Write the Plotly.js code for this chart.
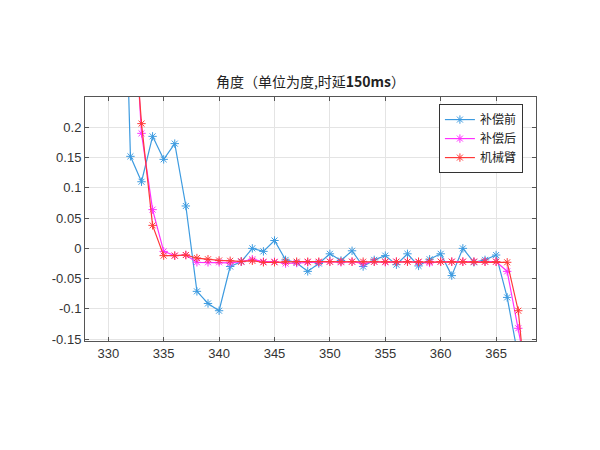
<!DOCTYPE html>
<html>
<head>
<meta charset="utf-8">
<script src="https://cdn.plot.ly/plotly-3.0.1.min.js"></script>
<style>
  html, body { margin: 0; padding: 0; background: #fff; }
  #plot { width: 600px; height: 450px; }
</style>
</head>
<body>
<div id="plot"></div>
<script>
// sample index (x axis)
var xBefore = [331, 332, 333, 334, 335, 336, 337, 338, 339, 340, 341, 342, 343, 344, 345, 346, 347, 348, 349,
  350, 351, 352, 353, 354, 355, 356, 357, 358, 359, 360, 361, 362, 363, 364, 365, 366, 367];
var xAfter = [332, 333, 334, 335, 336, 337, 338, 339, 340, 341, 342, 343, 344, 345, 346, 347, 348, 349,
  350, 351, 352, 353, 354, 355, 356, 357, 358, 359, 360, 361, 362, 363, 364, 365, 366, 367, 368];

// angle before compensation
var yBefore = [0.8, 0.152, 0.110, 0.185, 0.147, 0.173, 0.070, -0.071, -0.091, -0.103, -0.030, -0.022, 0.000, -0.005,
  0.013, -0.019, -0.024, -0.038, -0.025, -0.009, -0.020, -0.004, -0.030, -0.019, -0.012, -0.027, -0.009, -0.029,
  -0.018, -0.009, -0.045, 0.000, -0.023, -0.019, -0.011, -0.081, -0.18];

// angle after compensation
var yAfter = [0.5, 0.19, 0.064, -0.005, -0.012, -0.011, -0.023, -0.023, -0.023, -0.024, -0.022, -0.018, -0.022,
  -0.022, -0.025, -0.024, -0.023, -0.023, -0.022, -0.023, -0.022, -0.025, -0.022, -0.023, -0.022, -0.022, -0.023,
  -0.024, -0.022, -0.022, -0.022, -0.022, -0.022, -0.022, -0.038, -0.132, -0.23];

// robot arm angle
var yArm = [0.45, 0.206, 0.038, -0.012, -0.012, -0.011, -0.016, -0.018, -0.020, -0.0205, -0.0216, -0.0205, -0.023,
  -0.023, -0.022, -0.022, -0.022, -0.022, -0.022, -0.022, -0.022, -0.022, -0.022, -0.022, -0.022, -0.022, -0.022,
  -0.022, -0.022, -0.022, -0.022, -0.022, -0.022, -0.022, -0.023, -0.103, -0.29];

var xTicks = [330, 335, 340, 345, 350, 355, 360, 365];
var yTicks = [-0.15, -0.1, -0.05, 0, 0.05, 0.1, 0.15, 0.2];
var yTickText = ['-0.15', '-0.1', '-0.05', '0', '0.05', '0.1', '0.15', '0.2'];

function trace(x, y, name, color) {
  return {
    x: x, y: y, name: name, type: 'scatter', mode: 'lines+markers',
    line: {color: color, width: 1.2},
    marker: {symbol: 'asterisk-open', size: 7, color: color, line: {color: color, width: 1}}
  };
}

var data = [
  trace(xBefore, yBefore, '补偿前', '#3d9be0'),
  trace(xAfter, yAfter, '补偿后', '#ff30ff'),
  trace(xAfter, yArm, '机械臂', '#ff3838')
];

var axisStyle = {
  showline: true, linecolor: '#555', linewidth: 1, mirror: 'ticks',
  ticks: 'inside', ticklen: 4, tickcolor: '#555',
  showgrid: true, gridcolor: '#e4e4e4', zeroline: false,
  tickfont: {family: 'Liberation Sans, Arial, sans-serif', size: 13, color: '#333'}
};

var layout = {
  width: 600, height: 450,
  paper_bgcolor: '#fff', plot_bgcolor: '#fff',
  margin: {l: 85, r: 64, t: 97, b: 109},
  title: {
    text: '角度（单位为度,时延<b>150ms</b>）',
    font: {family: 'Noto Sans CJK SC, sans-serif', size: 14, color: '#222'},
    x: 0.5, xref: 'paper', y: 0.818, yref: 'container', yanchor: 'middle'
  },
  xaxis: Object.assign({}, axisStyle, {range: [327.9, 368.6], tickvals: xTicks}),
  yaxis: Object.assign({}, axisStyle, {range: [-0.153, 0.25], tickvals: yTicks, ticktext: yTickText}),
  showlegend: true,
  legend: {
    x: 0.971, y: 0.971, xanchor: 'right', yanchor: 'top',
    bgcolor: '#fff', bordercolor: '#333', borderwidth: 1,
    font: {family: 'Noto Sans CJK SC, sans-serif', size: 12, color: '#222'},
    tracegroupgap: 0
  }
};

Plotly.newPlot('plot', data, layout, {staticPlot: true});
</script>
</body>
</html>
